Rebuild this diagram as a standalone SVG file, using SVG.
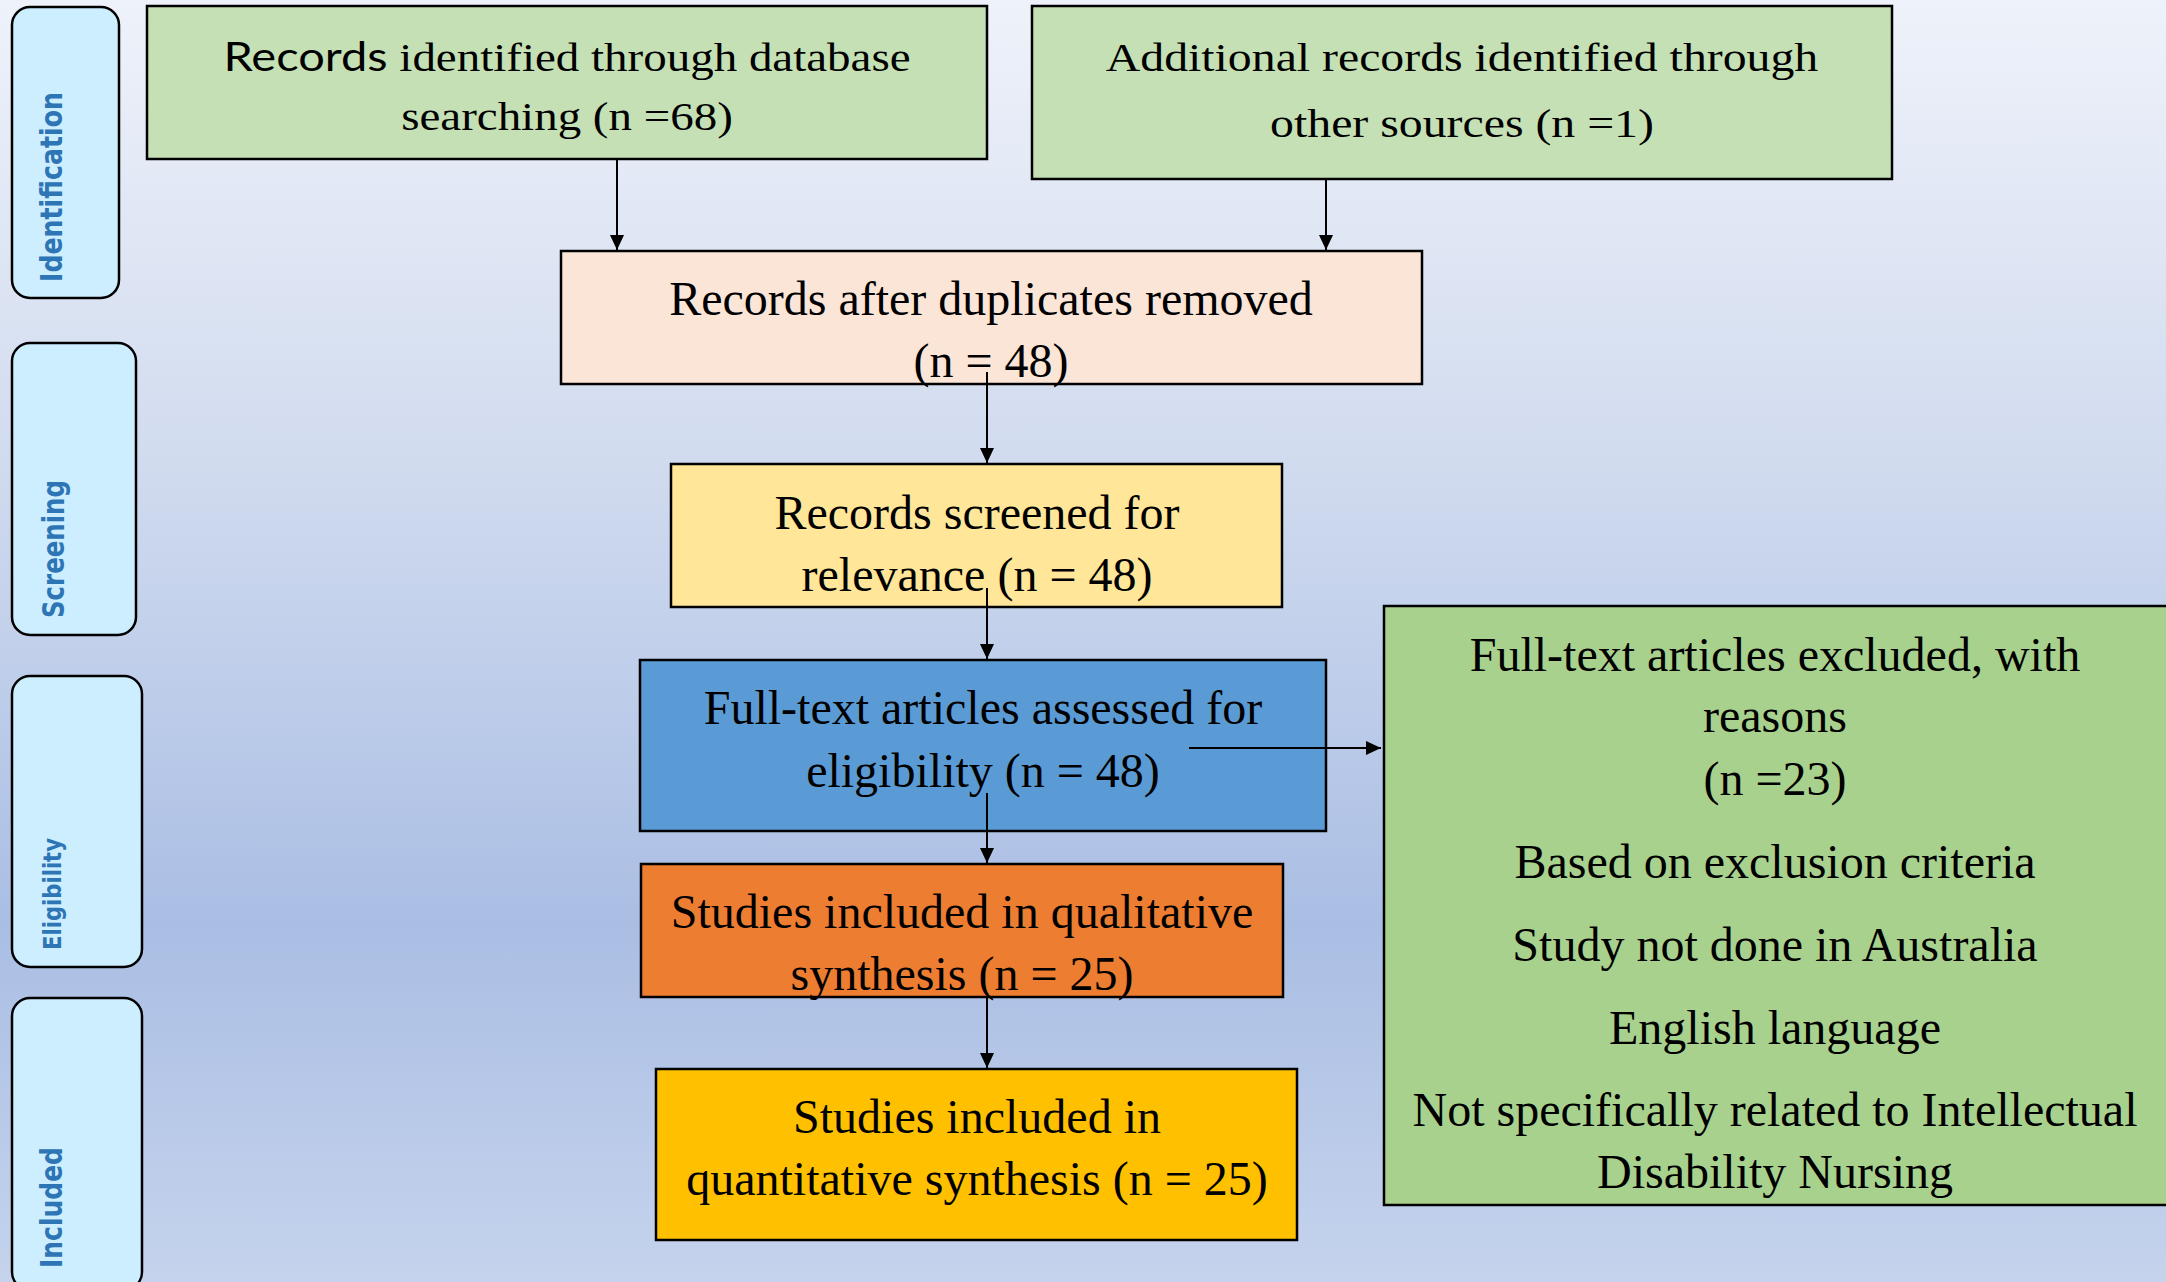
<svg xmlns="http://www.w3.org/2000/svg" width="2166" height="1282" viewBox="0 0 2166 1282">
  <defs>
    <linearGradient id="bg" x1="0" y1="0" x2="0" y2="1">
      <stop offset="0" stop-color="#eef2fa"/>
      <stop offset="0.35" stop-color="#d2dcef"/>
      <stop offset="0.72" stop-color="#aabee4"/>
      <stop offset="1" stop-color="#c5d3ec"/>
    </linearGradient>
    <marker id="arr" markerUnits="userSpaceOnUse" markerWidth="16" markerHeight="14" refX="15" refY="7" orient="auto">
      <path d="M0,0 L15,7 L0,14 z" fill="#000"/>
    </marker>
    <style>
      .box { stroke: #000; stroke-width: 2.5; }
      .pill { fill: #cdeeff; stroke: #000; stroke-width: 2.5; }
      .lbl { font-family: "DejaVu Sans", "Liberation Sans", sans-serif; font-weight: bold; fill: #2e75b6; font-size: 30px; }
      .t { font-family: "Liberation Serif", "Times New Roman", serif; font-size: 48px; fill: #000; text-anchor: middle; }
      .ts { font-family: "Liberation Serif", "Times New Roman", serif; font-size: 40.5px; fill: #000; text-anchor: middle; }
      .sans { font-family: Lato, "Open Sans", sans-serif; }
      .conn { stroke: #000; stroke-width: 2; fill: none; marker-end: url(#arr); }
    </style>
  </defs>

  <rect x="0" y="0" width="2166" height="1282" fill="url(#bg)"/>

  <!-- Phase labels -->
  <g id="phase-identification">
    <rect class="pill" x="12" y="7" width="107" height="291" rx="18" ry="18"/>
    <text class="lbl" transform="translate(62,282) rotate(-90)" textLength="190" lengthAdjust="spacingAndGlyphs">Identification</text>
  </g>
  <g id="phase-screening">
    <rect class="pill" x="12" y="343" width="124" height="292" rx="18" ry="18"/>
    <text class="lbl" transform="translate(64,618) rotate(-90)" textLength="138" lengthAdjust="spacingAndGlyphs">Screening</text>
  </g>
  <g id="phase-eligibility">
    <rect class="pill" x="12" y="676" width="130" height="291" rx="18" ry="18"/>
    <text class="lbl" style="font-size:25px" transform="translate(61,950) rotate(-90)" textLength="112" lengthAdjust="spacingAndGlyphs">Eligibility</text>
  </g>
  <g id="phase-included">
    <rect class="pill" x="12" y="998" width="130" height="292" rx="18" ry="18"/>
    <text class="lbl" transform="translate(62,1268) rotate(-90)" textLength="121" lengthAdjust="spacingAndGlyphs">Included</text>
  </g>

  <!-- Nodes -->
  <g id="node-database">
    <rect class="box" x="147" y="6" width="840" height="153" fill="#c5e0b4"/>
    <g transform="translate(567,0) scale(1.16,1)">
      <text class="ts" x="0" y="71"><tspan class="sans">Records</tspan> identified through database</text>
      <text class="ts" x="0" y="130">searching (n =68)</text>
    </g>
  </g>
  <g id="node-other">
    <rect class="box" x="1032" y="6" width="860" height="173" fill="#c5e0b4"/>
    <g transform="translate(1462,0) scale(1.18,1)">
      <text class="ts" x="0" y="71">Additional records identified through</text>
      <text class="ts" x="0" y="137">other sources (n =1)</text>
    </g>
  </g>
  <g id="node-duplicates">
    <rect class="box" x="561" y="251" width="861" height="133" fill="#fbe5d6"/>
    <text class="t" x="991" y="315">Records after duplicates removed</text>
    <text class="t" x="991" y="377">(n = 48)</text>
  </g>
  <g id="node-screened">
    <rect class="box" x="671" y="464" width="611" height="143" fill="#ffe699"/>
    <text class="t" x="977" y="529">Records screened for</text>
    <text class="t" x="977" y="591">relevance (n = 48)</text>
  </g>
  <g id="node-fulltext">
    <rect class="box" x="640" y="660" width="686" height="171" fill="#5b9bd5"/>
    <text class="t" x="983" y="724">Full-text articles assessed for</text>
    <text class="t" x="983" y="787">eligibility (n = 48)</text>
  </g>
  <g id="node-qualitative">
    <rect class="box" x="641" y="864" width="642" height="133" fill="#ed7d31"/>
    <text class="t" x="962" y="928">Studies included in qualitative</text>
    <text class="t" x="962" y="990">synthesis (n = 25)</text>
  </g>
  <g id="node-quantitative">
    <rect class="box" x="656" y="1069" width="641" height="171" fill="#ffc000"/>
    <text class="t" x="977" y="1133">Studies included in</text>
    <text class="t" x="977" y="1195">quantitative synthesis (n = 25)</text>
  </g>
  <g id="node-excluded">
    <rect class="box" x="1384" y="606" width="790" height="599" fill="#a9d18e"/>
    <text class="t" x="1775" y="671">Full-text articles excluded, with</text>
    <text class="t" x="1775" y="732">reasons</text>
    <text class="t" x="1775" y="795">(n =23)</text>
    <text class="t" x="1775" y="878">Based on exclusion criteria</text>
    <text class="t" x="1775" y="961">Study not done in Australia</text>
    <text class="t" x="1775" y="1044">English language</text>
    <text class="t" x="1775" y="1126">Not specifically related to Intellectual</text>
    <text class="t" x="1775" y="1188">Disability Nursing</text>
  </g>

  <!-- Connectors -->
  <g id="connectors">
    <path class="conn" d="M617,159 V250"/>
    <path class="conn" d="M1326,179 V250"/>
    <path class="conn" d="M987,372 V463"/>
    <path class="conn" d="M987,588 V659"/>
    <path class="conn" d="M987,793 V863"/>
    <path class="conn" d="M987,997 V1068"/>
    <path class="conn" d="M1189,748 H1381"/>
  </g>
</svg>
